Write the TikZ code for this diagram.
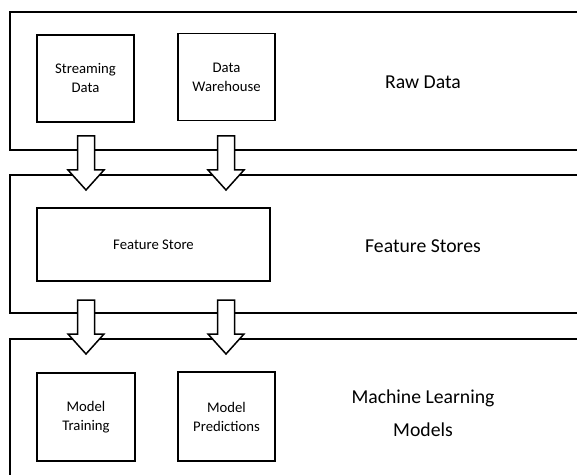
\documentclass[tikz,border=0pt]{standalone}
\usepackage{fontspec}
\setmainfont{Carlito}
\usetikzlibrary{calc}

\tikzset{
  x=1bp, y=-1bp,
  frame/.style={draw=black, line width=1.5bp},
  box/.style={frame, fill=white, inner sep=0pt, align=center,
    font=\fontsize{14.7bp}{19bp}\selectfont},
  tier/.style={align=center, font=\fontsize{19.7bp}{33bp}\selectfont},
  blk/.style={frame, fill=white, line join=miter},
}

\begin{document}
\begin{tikzpicture}
  \clip (0,0) rectangle (577,475);
  \fill[white] (0,0) rectangle (577,475);

  % tier frames (open to the right)
  \draw[frame] (10,12) rectangle (600,150);
  \draw[frame] (10,175) rectangle (600,313);
  \draw[frame] (10,339) rectangle (600,520);

  % raw data tier
  \node[box, minimum width=97bp, minimum height=87bp] (sd) at (85.5,78.5) {Streaming\\Data};
  \node[box, minimum width=97bp, minimum height=87bp] (dw) at (226.5,77) {Data\\Warehouse};
  \node[tier] (raw) at (423,82) {Raw Data};

  % feature store tier
  \node[box, minimum width=233bp, minimum height=73bp] (fs) at (153.5,244.5) {Feature Store};
  \node[tier] (fst) at (423,246) {Feature Stores};

  % model tier
  \node[box, minimum width=98bp, minimum height=88bp] (mt) at (86,417) {Model\\Training};
  \node[box, minimum width=97bp, minimum height=89bp] (mp) at (226.5,416.5) {Model\\Predictions};
  \node[tier] (mlm) at (423,413.5) {Machine Learning\\Models};

  % arrow anchors
  \coordinate (a1) at (86,136);   \coordinate (t1) at (86,190);
  \coordinate (a2) at (226,136);  \coordinate (t2) at (226,190);
  \coordinate (a3) at (86,300);   \coordinate (t3) at (86,354);
  \coordinate (a4) at (226,300);  \coordinate (t4) at (226,354);

  % block arrows between tiers
  \foreach \s/\t in {a1/t1, a2/t2, a3/t3, a4/t4}{
    \draw[blk] (\s) ++(-8.5,0) -- ++(17,0) -- ++(0,34) -- ++(9.5,0)
      -- (\t) -- ++(-18,-20) -- ++(9.5,0) -- ++(0,-34) -- cycle;
  }
\end{tikzpicture}
\end{document}
